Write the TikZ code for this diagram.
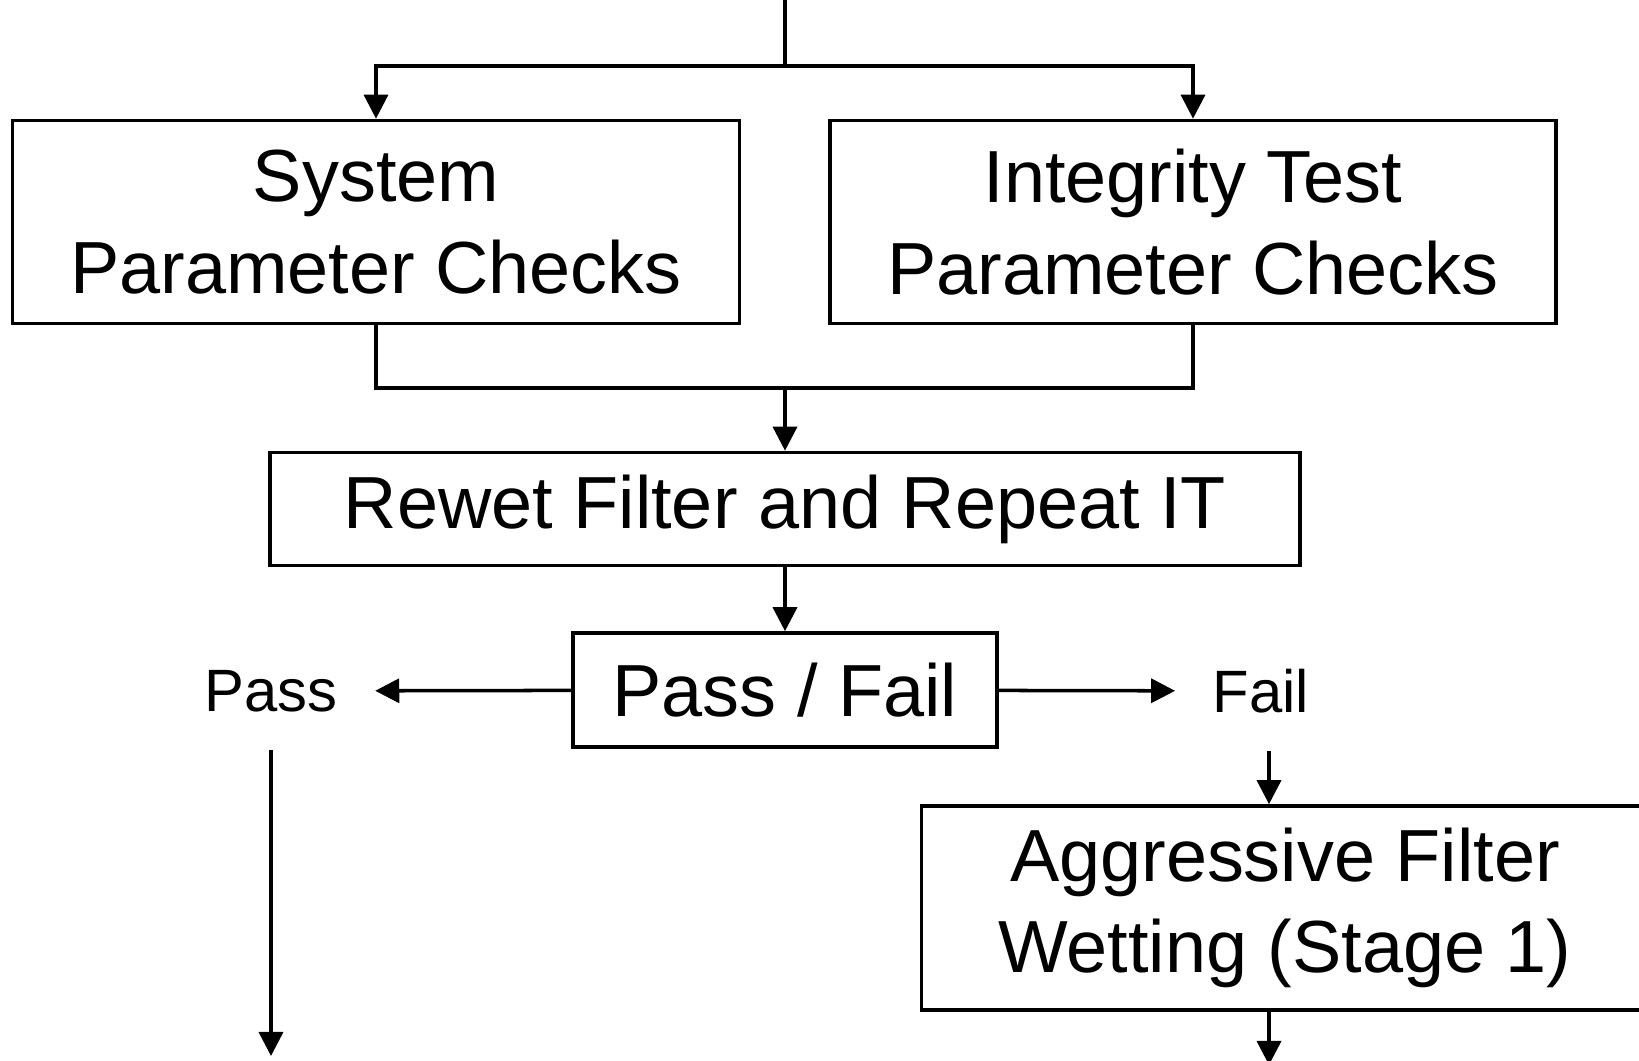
\documentclass[tikz,border=0pt]{standalone}
\usepackage{fontspec}
\setmainfont{Liberation Sans}
\usetikzlibrary{arrows.meta}

\begin{document}
\begin{tikzpicture}[x=0.01cm, y=-0.01cm, line width=1pt,
    box/.style={draw, align=center, inner sep=0pt, font=\fontsize{21}{26}\selectfont},
    lbl/.style={inner sep=0.36cm, font=\fontsize{17}{20}\selectfont},
    arr/.style={-{Triangle[length=0.24cm,width=0.24cm]}}]
    \useasboundingbox (0,0) rectangle (1639,1061);

    \node[box, minimum width=7.27cm, minimum height=2.03cm] (sys) at (376,222) {System\\Parameter Checks};
    \node[box, minimum width=7.26cm, minimum height=2.03cm] (itp) at (1193,222) {Integrity Test\\Parameter Checks};
    \node[box, minimum width=10.29cm, minimum height=1.13cm] (rewet) at (785,509) {Rewet Filter and Repeat IT};
    \node[box, minimum width=4.24cm, minimum height=1.14cm] (pf) at (785,690) {Pass / Fail};
    \node[lbl] (pass) at (271,691) {Pass};
    \node[lbl] (fail) at (1261,691) {Fail};
    \node[box, minimum width=7.27cm, minimum height=2.04cm] (wet) at (1285,908) {Aggressive Filter\\Wetting (Stage 1)};

    \coordinate (top) at (785,0);
    \coordinate (split) at (785,66);
    \coordinate (join) at (785,388);
    \coordinate (fx) at (1269,0);
    \coordinate (passend) at (271,1056);
    \coordinate (wetend) at (1269,1065);

    \draw (top) -- (split);
    \draw[arr] (split) -| (sys.north);
    \draw[arr] (split) -| (itp.north);
    \draw (sys.south) |- (join) -| (itp.south);
    \draw[arr] (join) -- (rewet.north);
    \draw[arr] (rewet) -- (pf);
    \draw[arr] (pf) -- (pass);
    \draw[arr] (pf) -- (fail);
    \draw[arr] (pass.south) -- (passend);
    \draw[arr] (fail.south -| fx) -- (wet.north -| fx);
    \draw[arr] (wet.south -| fx) -- (wetend);
\end{tikzpicture}
\end{document}
